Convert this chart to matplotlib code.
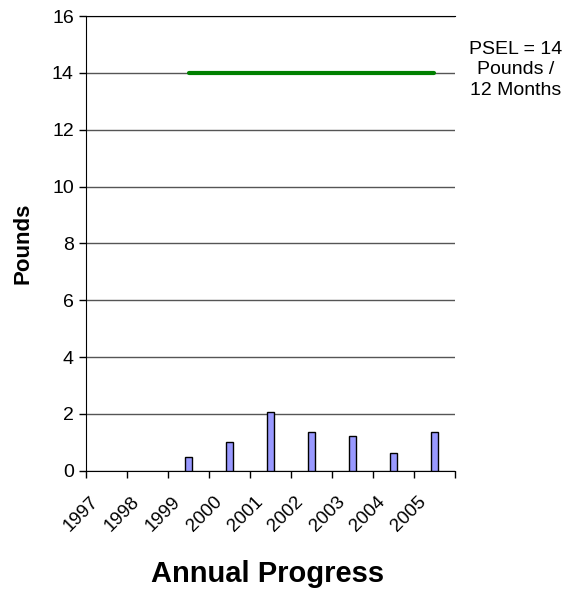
import numpy as np
import matplotlib.pyplot as plt
from matplotlib.transforms import ScaledTranslation

plt.rcParams['font.family'] = ['Liberation Sans', 'DejaVu Sans']

# data
years = ['1997', '1998', '1999', '2000', '2001', '2002', '2003', '2004', '2005']
pounds = [np.nan, np.nan, 0.48, 1.01, 2.08, 1.38, 1.22, 0.64, 1.38]
psel = [np.nan, np.nan, 14, 14, 14, 14, 14, 14, 14]
yticks = [0, 2, 4, 6, 8, 10, 12, 14, 16]

fig = plt.figure(figsize=(5.75, 5.93), dpi=100)
ax = fig.add_axes([0.150, 0.206, 0.641, 0.767])

x = np.arange(len(years))
ax.bar(x, pounds, width=0.18, color='#9999FF', edgecolor='black', linewidth=1, zorder=3)
ax.plot(x, psel, color='#008000', linewidth=3, solid_capstyle='round', zorder=4)

ax.set_xlim(-0.5, len(years) - 0.5)
ax.set_ylim(0, 16)
ax.set_yticks(yticks)
ax.yaxis.grid(True, color='#555555', linewidth=1, zorder=0)
ax.set_axisbelow(True)

ax.set_xticks(x)
ax.set_xticklabels(years, rotation=45, ha='right', fontsize=13.5)
ax.tick_params(axis='x', which='major', length=0, pad=16)
ax.set_xticks(np.arange(len(years) + 1) - 0.5, minor=True)
ax.tick_params(axis='x', which='minor', length=5, width=1, direction='out')
ax.tick_params(axis='y', length=5, width=1, direction='out', labelsize=14, pad=4)

# labels sit a bit left of the category centre
shift = ScaledTranslation(-4.5 / 100, 0, fig.dpi_scale_trans)
for lab in ax.get_xticklabels():
    lab.set_transform(lab.get_transform() + shift)

ax.spines['right'].set_visible(False)
ax.spines['top'].set_color('black')

fig.text(22.5 / 575, 0.590, 'Pounds', rotation=90, ha='center', va='center',
         fontsize=16, fontweight='bold')
fig.text(268 / 575, 11 / 593, 'Annual Progress', ha='center', va='baseline',
         fontsize=21, fontweight='bold')

fig.text(0.897, 0.882, 'PSEL = 14\nPounds /\n12 Months', ha='center', va='center',
         fontsize=14, linespacing=1.3)

fig.savefig('out.png', dpi=100)
